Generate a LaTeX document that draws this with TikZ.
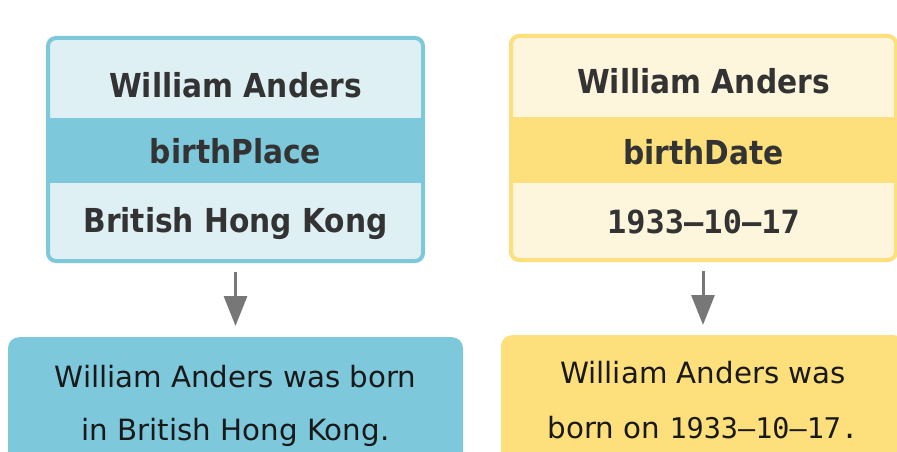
\documentclass[tikz,border=0pt]{standalone}
\usepackage{fontspec}
\usetikzlibrary{arrows.meta}
\setmainfont{DejaVu Sans}
\IfFontExistsTF{DejaVu Sans Condensed}
  {\newfontfamily\hdfont{DejaVu Sans Condensed}[BoldFont={DejaVu Sans Condensed Bold}]\def\hdsize{33}}
  {\newfontfamily\hdfont{DejaVu Sans}\def\hdsize{30}}
\newfontfamily\dmono{DejaVu Sans Mono}
\definecolor{bluedark}{HTML}{7EC8DC}
\definecolor{bluelight}{HTML}{DFF0F5}
\definecolor{yeldark}{HTML}{FDE07B}
\definecolor{yellight}{HTML}{FEF6DC}
\definecolor{txt}{HTML}{333333}
\definecolor{arrgray}{HTML}{777777}
\tikzset{
  hd/.style={anchor=base, text=txt, font=\hdfont\fontsize{\hdsize}{\hdsize}\selectfont\bfseries},
  hdm/.style={anchor=base, text=txt, font=\dmono\fontsize{32}{32}\selectfont\bfseries},
  bodytxt/.style={anchor=base, text=black!90, font=\fontsize{29.3}{29.3}\selectfont},
  card/.style={rounded corners=8pt, line width=4pt, inner sep=0pt},
  outbox/.style={rounded corners=11pt, inner sep=0pt},
  conn/.style={draw=arrgray, line width=3pt, -{Triangle[width=23pt,length=30pt]}}
}
\begin{document}
\begin{tikzpicture}[x=1pt,y=-1pt]
\useasboundingbox (0,0) rectangle (897,452);
\clip (0,0) rectangle (897,452);
\fill[white] (0,0) rectangle (897,452);
% left card
\node[card, minimum width=375pt, minimum height=223pt, fill=bluelight] (tl) at (235.5,149.5) {};
\fill[bluedark] (50,118) rectangle (421,183);
\node[card, draw=bluedark, minimum width=375pt, minimum height=223pt] (tlb) at (235.5,149.5) {};
\node[hd] (tl1) at (235.5,97) {William Anders};
\node[hd] (tl2) at (235.5,163) {birthPlace};
\node[hd] (tl3) at (235.5,232) {British Hong Kong};
% right card
\node[card, minimum width=385pt, minimum height=224pt, fill=yellight] (tr) at (703.5,148) {};
\fill[yeldark] (513,117) rectangle (894,183);
\node[card, draw=yeldark, minimum width=385pt, minimum height=224pt] (trb) at (703.5,148) {};
\node[hd] (tr1) at (703.5,93) {William Anders};
\node[hd] (tr2) at (703.5,164) {birthDate};
\node[hdm] (tr3) at (703.5,233) {1933{\char"2013}10{\char"2013}17};
% bottom boxes
\node[outbox, fill=bluedark, minimum width=455pt, minimum height=160pt, anchor=north] (bl) at (235.5,337) {};
\node[bodytxt] (bl1) at (235.5,387) {William Anders was born};
\node[bodytxt] (bl2) at (235.5,440) {in British Hong Kong.};
\node[outbox, fill=yeldark, minimum width=404pt, minimum height=160pt, anchor=north] (br) at (703,335) {};
\node[bodytxt] (br1) at (703,383) {William Anders was};
\node[bodytxt] (br2) at (703,438) {born on {\dmono\fontsize{28.5}{28.5}\selectfont 1933{\char"2013}10{\char"2013}17.}};
% connectors
\draw[conn, shorten <=9pt, shorten >=11pt] (tlb.south -| bl.north) -- (bl.north);
\draw[conn, shorten <=9pt, shorten >=10pt] (trb.south -| br.north) -- (br.north);
\end{tikzpicture}
\end{document}
